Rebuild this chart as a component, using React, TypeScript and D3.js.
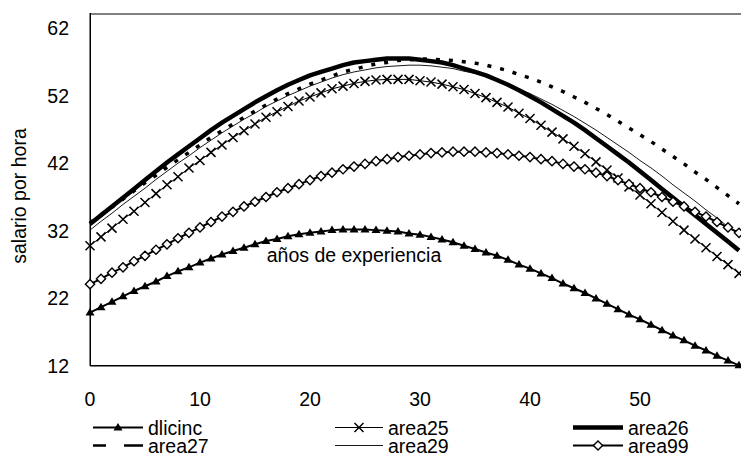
import React from 'react';
import * as d3 from 'd3';

const years: number[] = d3.range(0, 60);
const xTicks = [0, 10, 20, 30, 40, 50];
const yTicks = [12, 22, 32, 42, 52, 62];

const dlicinc = [19.9,20.7,21.5,22.3,23.1,23.8,24.5,25.3,26.0,26.6,27.3,27.9,28.5,29.0,29.5,30.0,30.5,30.8,31.2,31.5,31.7,31.9,32.1,32.2,32.2,32.2,32.1,32.0,31.9,31.6,31.4,31.1,30.7,30.3,29.8,29.3,28.8,28.3,27.7,27.0,26.4,25.7,25.0,24.2,23.5,22.8,22.0,21.2,20.4,19.6,18.9,18.1,17.3,16.5,15.8,15.0,14.3,13.5,12.8,12.1];
const area25 = [29.8,31.1,32.4,33.7,34.9,36.2,37.5,38.8,40.0,41.3,42.4,43.6,44.7,45.8,46.8,47.8,48.8,49.6,50.4,51.2,51.8,52.4,53.0,53.4,53.8,54.1,54.3,54.4,54.4,54.4,54.2,54.0,53.7,53.3,52.9,52.3,51.7,51.0,50.3,49.4,48.6,47.6,46.6,45.6,44.5,43.4,42.2,41.0,39.8,38.5,37.3,36.0,34.7,33.4,32.1,30.8,29.5,28.2,27.0,25.7];
const area26 = [33.0,34.3,35.6,36.9,38.2,39.5,40.8,42.1,43.3,44.5,45.7,46.9,48.0,49.0,50.0,51.0,51.9,52.8,53.6,54.3,55.0,55.5,56.0,56.5,56.9,57.1,57.3,57.5,57.5,57.5,57.3,57.1,56.9,56.5,56.0,55.5,55.0,54.3,53.6,52.8,51.9,51.0,50.0,49.0,48.0,46.9,45.7,44.5,43.3,42.1,40.8,39.5,38.2,36.9,35.6,34.3,33.0,31.7,30.4,29.1];
const area27 = [33.2,34.4,35.5,36.7,37.9,39.1,40.2,41.4,42.5,43.6,44.7,45.8,46.8,47.8,48.8,49.7,50.6,51.5,52.3,53.0,53.7,54.3,54.9,55.5,55.9,56.3,56.7,56.9,57.2,57.3,57.4,57.4,57.3,57.2,57.0,56.8,56.5,56.1,55.7,55.1,54.6,54.0,53.3,52.6,51.8,51.0,50.1,49.2,48.2,47.2,46.2,45.2,44.1,43.0,41.9,40.7,39.6,38.4,37.2,36.0];
const area29 = [32.1,33.4,34.6,35.9,37.1,38.3,39.6,40.8,42.0,43.1,44.3,45.4,46.5,47.5,48.5,49.4,50.4,51.2,52.0,52.7,53.4,54.0,54.6,55.1,55.5,55.8,56.1,56.3,56.4,56.5,56.5,56.4,56.2,56.0,55.6,55.3,54.8,54.3,53.7,53.0,52.3,51.5,50.7,49.8,48.9,47.9,46.9,45.8,44.7,43.6,42.4,41.3,40.1,38.8,37.6,36.4,35.1,33.9,32.6,31.4];
const area99 = [24.1,24.9,25.8,26.6,27.5,28.3,29.2,30.0,30.9,31.7,32.5,33.3,34.1,34.8,35.6,36.3,37.0,37.7,38.3,38.9,39.5,40.1,40.6,41.1,41.5,41.9,42.3,42.6,42.9,43.1,43.3,43.5,43.6,43.7,43.7,43.7,43.6,43.5,43.3,43.1,42.9,42.6,42.3,41.9,41.5,41.1,40.6,40.1,39.5,38.9,38.3,37.7,37.0,36.3,35.6,34.8,34.1,33.3,32.5,31.7];

const yLabel = 'salario por hora';
const xLabel = 'años de experiencia';

type Marker = 'triangle' | 'cross' | 'diamond' | 'none';
interface Series { name: string; values: number[]; width: number; legendWidth: number; dash?: string; marker: Marker; legendDash?: string; }

const seriesList: Series[] = [
  { name: 'dlicinc', values: dlicinc, width: 2, legendWidth: 2, marker: 'triangle' },
  { name: 'area25', values: area25, width: 1, legendWidth: 1, marker: 'cross' },
  { name: 'area26', values: area26, width: 4.5, legendWidth: 4.5, marker: 'none' },
  { name: 'area27', values: area27, width: 3.5, legendWidth: 2.5, dash: '4,9', marker: 'none', legendDash: '13,18,19,0' },
  { name: 'area29', values: area29, width: 0.9, legendWidth: 0.9, marker: 'none' },
  { name: 'area99', values: area99, width: 2, legendWidth: 2, marker: 'diamond' },
];

const FONT = '"Liberation Sans", Arial, sans-serif';
const FS = 19.5;

function MarkerShape({ kind, x, y }: { kind: Marker; x: number; y: number }) {
  if (kind === 'triangle') {
    return <path d={`M${x},${y - 4.5}L${x + 4.5},${y + 3}L${x - 4.5},${y + 3}Z`} fill="#000" />;
  }
  if (kind === 'cross') {
    const s = 4.5;
    return <path d={`M${x - s},${y - s}L${x + s},${y + s}M${x - s},${y + s}L${x + s},${y - s}`} stroke="#000" strokeWidth={1.5} fill="none" />;
  }
  if (kind === 'diamond') {
    const s = 4.6;
    return <path d={`M${x},${y - s}L${x + s},${y}L${x},${y + s}L${x - s},${y}Z`} fill="#fff" stroke="#000" strokeWidth={1.4} />;
  }
  return null;
}

export default function App() {
  const W = 741, H = 455;
  const left = 90, right = 739, bottom = 366, topTick = 28, plotTop = 13;
  const x = d3.scaleLinear().domain([0, 59]).range([left, right]);
  const y = d3.scaleLinear().domain([12, 62]).range([bottom, topTick]);
  const line = d3.line<number>().x((_, i) => x(years[i])).y((d) => y(d));

  const legendCols = [93, 335, 573];
  const legendRows = [427.5, 445.5];
  const sampleW = 50;

  return (
    <svg width={W} height={H} viewBox={`0 0 ${W} ${H}`} style={{ position: 'absolute', left: 0, top: 0, background: '#fff' }} fontFamily={FONT}>
      <rect x={0} y={0} width={W} height={H} fill="#fff" />
      <line x1={left} x2={W} y1={plotTop + 1} y2={plotTop + 1} stroke="#808080" strokeWidth={2} />
      <line x1={left} x2={W} y1={bottom - 0.5} y2={bottom - 0.5} stroke="#000" strokeWidth={1} />
      <line x1={left} x2={W} y1={bottom + 0.5} y2={bottom + 0.5} stroke="#808080" strokeWidth={1} />
      <line x1={left + 0.25} x2={left + 0.25} y1={plotTop} y2={bottom} stroke="#000" strokeWidth={1.5} />

      {yTicks.map((t) => (
        <text key={t} x={69} y={y(t) + 6.9} textAnchor="end" fontSize={FS} fill="#000">{t}</text>
      ))}
      {xTicks.map((t) => (
        <text key={t} x={x(t)} y={406} textAnchor="middle" fontSize={FS} fill="#000">{t}</text>
      ))}
      <text transform={`translate(25.5,196) rotate(-90)`} textAnchor="middle" fontSize={FS} fill="#000">{yLabel}</text>

      {seriesList.map((s) => (
        <g key={s.name}>
          <path d={line(s.values) || ''} fill="none" stroke="#000" strokeWidth={s.width} strokeDasharray={s.dash} strokeLinejoin="round" />
          {s.marker !== 'none' && s.values.map((v, i) => (
            <MarkerShape key={i} kind={s.marker} x={x(years[i])} y={y(v)} />
          ))}
        </g>
      ))}

      <text x={354} y={262} textAnchor="middle" fontSize={FS} fill="#000">{xLabel}</text>

      {seriesList.map((s, i) => {
        const col = i % 3, row = Math.floor(i / 3);
        const lx = legendCols[col];
        const ly = legendRows[row];
        const w = col === 1 ? 48 : sampleW;
        return (
          <g key={s.name}>
            <line x1={lx} x2={lx + w} y1={ly} y2={ly} stroke="#000" strokeWidth={s.legendWidth} strokeDasharray={s.legendDash} />
            <MarkerShape kind={s.marker} x={lx + w / 2} y={ly} />
            <text x={lx + w + 5} y={ly + 7} fontSize={FS} fill="#000">{s.name}</text>
          </g>
        );
      })}
    </svg>
  );
}
